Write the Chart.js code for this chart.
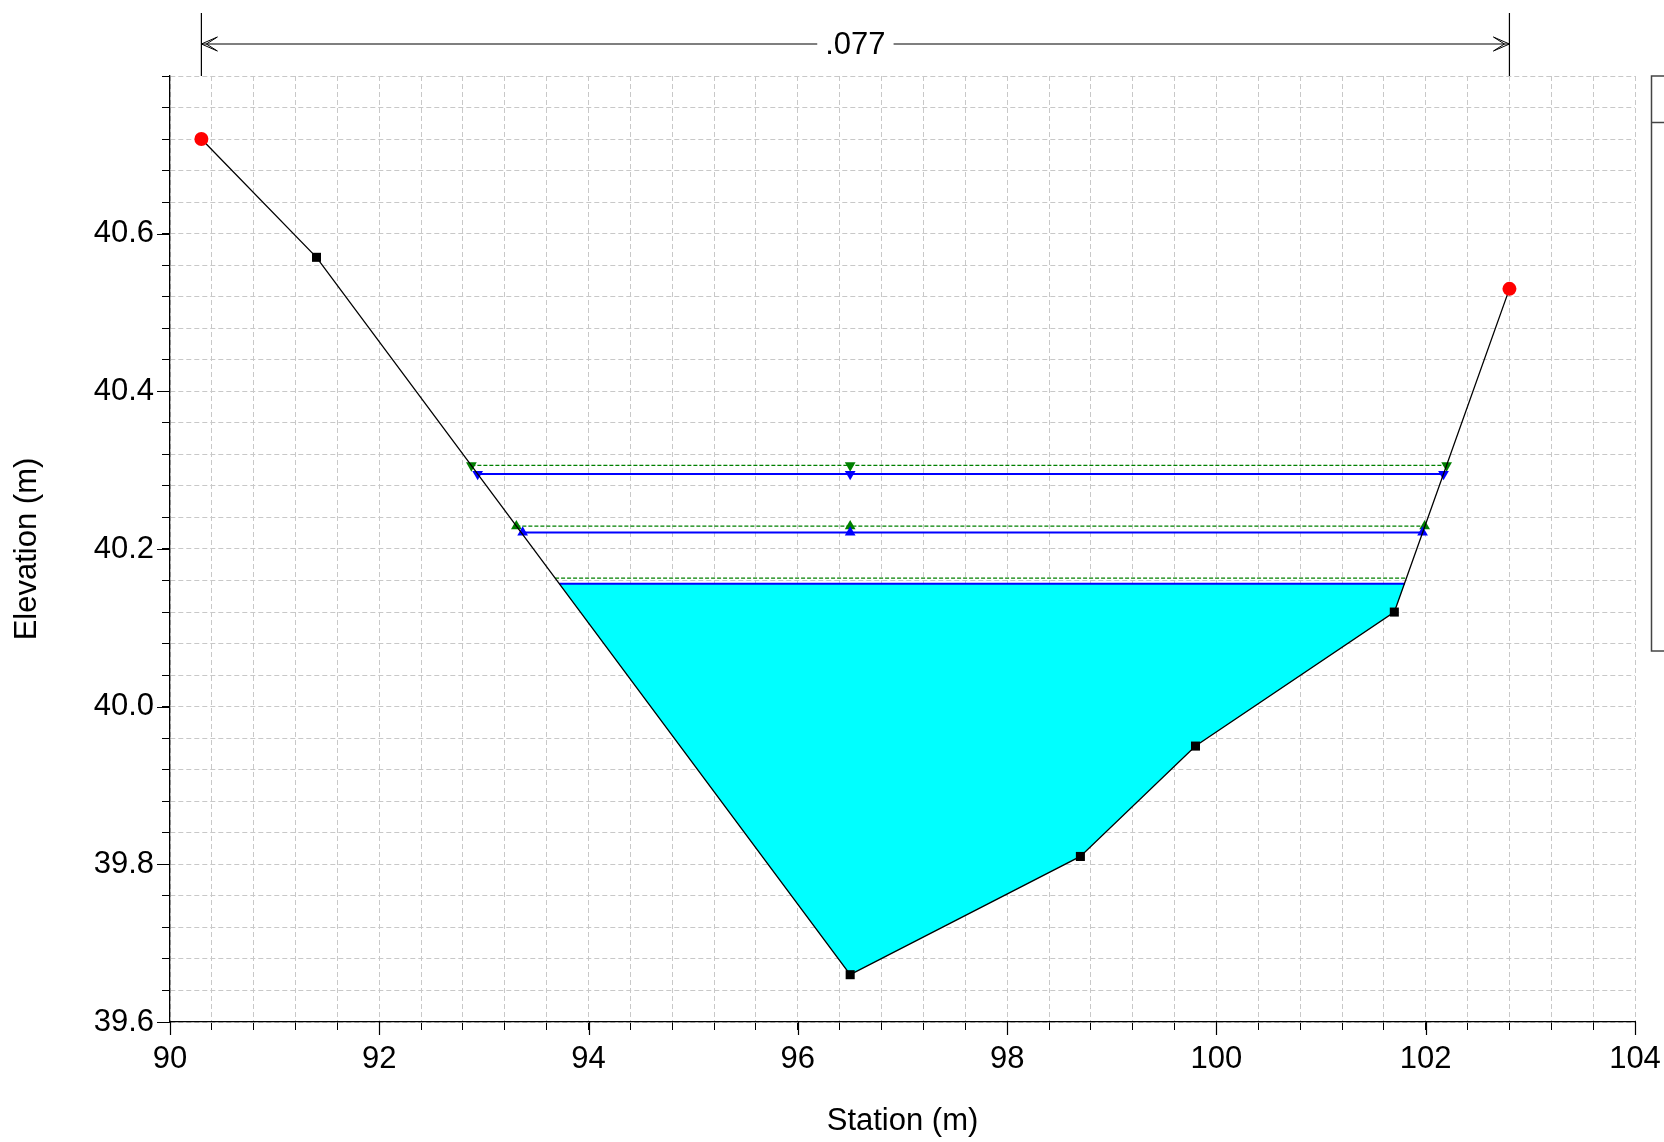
<!DOCTYPE html>
<html>
<head>
<meta charset="utf-8">
<script src="https://cdn.jsdelivr.net/npm/chart.js@4.4.6/dist/chart.umd.min.js"></script>
<style>
  html, body { margin: 0; padding: 0; background: #fff; }
</style>
</head>
<body>
<canvas id="chart" width="1664" height="1142"></canvas>
<script>
/* ground profile (station m, elevation m) */
const groundStation = [90.3, 91.4, 96.5, 98.7, 99.8, 101.7, 102.8];
const groundElev = [40.72, 40.57, 39.66, 39.81, 39.95, 40.12, 40.53];

/* water surfaces, top to bottom: blue solid and green dashed */
const blueElev = [40.295, 40.221, 40.156];
const blueLeft = [92.94, 93.37, 93.72];
const blueRight = [102.17, 101.97, 101.80];
const greenElev = [40.306, 40.229, 40.163];
const greenLeft = [92.88, 93.31, 93.68];
const greenRight = [102.20, 101.99, 101.82];
const markerStation = 96.5;
const markerDir = ['down', 'up', 'none'];

const nValue = '.077';
const xTitle = 'Station (m)';
const yTitle = 'Elevation (m)';

const FONT = '"Liberation Sans", Arial, sans-serif';
Chart.defaults.font.family = FONT;
Chart.defaults.color = '#000';

const isMultiple = (v, m) => Math.abs(v / m - Math.round(v / m)) < 1e-6;
const last = groundStation.length - 1;

/* one water line: left bank, optional middle marker, right bank */
function wsLine(elev, left, right, dir, color, width, dash, order) {
  const pts = [{ x: left, y: elev }];
  if (dir !== 'none') pts.push({ x: markerStation, y: elev });
  pts.push({ x: right, y: elev });
  return {
    data: pts,
    borderColor: color,
    borderWidth: width,
    borderDash: dash,
    pointStyle: 'triangle',
    pointRotation: dir === 'down' ? 180 : 0,
    pointRadius: dir === 'none' ? 0 : 6.2,
    pointBackgroundColor: color,
    pointBorderWidth: 0,
    fill: false,
    order: order
  };
}

const datasets = [];

/* ground line with bank points */
datasets.push({
  data: groundStation.map((x, i) => ({ x: x, y: groundElev[i] })),
  borderColor: '#000',
  borderWidth: 1.3,
  pointStyle: groundStation.map((x, i) => (i === 0 || i === last) ? 'circle' : 'rect'),
  pointRadius: groundStation.map((x, i) => (i === 0 || i === last) ? 7 : 6.4),
  pointBackgroundColor: groundStation.map((x, i) => (i === 0 || i === last) ? '#ff0000' : '#000'),
  pointBorderWidth: 0,
  fill: false,
  order: 0
});

for (let i = 0; i < blueElev.length; i++) {
  datasets.push(wsLine(blueElev[i], blueLeft[i], blueRight[i], markerDir[i], '#0000ff', 2, [], 1));
  datasets.push(wsLine(greenElev[i], greenLeft[i], greenRight[i], markerDir[i], '#008000', 1.2, [4, 2], 2));
}

/* wetted area under the lowest water surface */
const w = blueElev.length - 1;
const wet = groundStation
  .map((x, i) => ({ x: x, y: groundElev[i] }))
  .filter(p => p.x > blueLeft[w] && p.x < blueRight[w]);
datasets.push({
  data: [{ x: blueLeft[w], y: blueElev[w] }, ...wet, { x: blueRight[w], y: blueElev[w] }],
  borderWidth: 0,
  pointRadius: 0,
  backgroundColor: '#00ffff',
  fill: 'shape',
  order: 9
});

/* longer major ticks, dimension line and cut legend frame */
const extras = {
  id: 'extras',
  afterDraw(chart) {
    const ctx = chart.ctx;
    const xs = chart.scales.x, ys = chart.scales.y;
    const area = chart.chartArea;
    ctx.save();
    ctx.strokeStyle = '#000';
    ctx.lineWidth = 1.2;
    ctx.beginPath();
    xs.ticks.forEach(t => {
      if (isMultiple(t.value, 2)) {
        const px = Math.round(xs.getPixelForValue(t.value)) + 0.5;
        ctx.moveTo(px, area.bottom); ctx.lineTo(px, area.bottom + 13);
      }
    });
    ys.ticks.forEach(t => {
      if (isMultiple(t.value, 0.2) && t.value < 40.79) {
        const py = Math.round(ys.getPixelForValue(t.value)) + 0.5;
        ctx.moveTo(area.left - 13, py); ctx.lineTo(area.left, py);
      }
    });
    ctx.stroke();

    // dimension between bank stations
    const xl = xs.getPixelForValue(groundStation[0]);
    const xr = xs.getPixelForValue(groundStation[last]);
    const dy = area.top - 32;
    const cx = (xl + xr) / 2;
    ctx.font = '31px ' + FONT;
    ctx.fillStyle = '#000';
    ctx.textAlign = 'center';
    ctx.textBaseline = 'middle';
    const tw = ctx.measureText(nValue).width;
    ctx.fillText(nValue, cx, dy + 1);
    ctx.lineWidth = 1.2;
    ctx.beginPath();
    ctx.moveTo(xl, 13); ctx.lineTo(xl, area.top);
    ctx.moveTo(xr, 13); ctx.lineTo(xr, area.top);
    ctx.moveTo(xl, dy); ctx.lineTo(cx - tw / 2 - 8, dy);
    ctx.moveTo(cx + tw / 2 + 8, dy); ctx.lineTo(xr, dy);
    ctx.stroke();
    ctx.lineWidth = 1;
    ctx.beginPath();
    ctx.moveTo(xl, dy); ctx.lineTo(xl + 16, dy - 7); ctx.lineTo(xl + 5, dy); ctx.lineTo(xl + 16, dy + 7); ctx.closePath();
    ctx.moveTo(xr, dy); ctx.lineTo(xr - 16, dy - 7); ctx.lineTo(xr - 5, dy); ctx.lineTo(xr - 16, dy + 7); ctx.closePath();
    ctx.stroke();

    // legend frame, clipped by the canvas edge
    ctx.strokeStyle = '#444';
    ctx.lineWidth = 1.5;
    ctx.strokeRect(1651.5, area.top, 40, 575);
    ctx.beginPath();
    ctx.moveTo(1651.5, area.top + 46.5); ctx.lineTo(1664, area.top + 46.5);
    ctx.stroke();
    ctx.restore();
  }
};

new Chart(document.getElementById('chart'), {
  type: 'line',
  data: { datasets: datasets },
  options: {
    responsive: false,
    animation: false,
    events: [],
    layout: { padding: { top: 76, right: 29, left: 0, bottom: 0 } },
    plugins: { legend: { display: false }, tooltip: { enabled: false } },
    scales: {
      x: {
        type: 'linear',
        min: 90,
        max: 104,
        afterFit: s => { s.height = 120; s.paddingLeft = 0; s.paddingRight = 0; },
        ticks: {
          stepSize: 0.4,
          autoSkip: false,
          maxRotation: 0,
          padding: 11,
          font: { size: 31 },
          color: '#000',
          callback: v => isMultiple(v, 2) ? String(Math.round(v)) : ''
        },
        grid: { color: '#c8c8c8', lineWidth: 1, tickLength: 8, tickColor: '#000', tickBorderDash: [] },
        border: { color: '#000', width: 1.3, dash: [5, 3] },
        title: { display: true, text: xTitle, font: { size: 31 }, color: '#000', padding: { top: 0, bottom: 2 } }
      },
      y: {
        type: 'linear',
        min: 39.6,
        max: 40.8,
        afterFit: s => { s.width = 170; s.paddingTop = 0; s.paddingBottom = 0; },
        ticks: {
          stepSize: 0.04,
          autoSkip: false,
          padding: 8,
          font: { size: 31 },
          color: '#000',
          callback: v => (isMultiple(v, 0.2) && v < 40.79) ? v.toFixed(1) : ''
        },
        grid: { color: '#c8c8c8', lineWidth: 1, tickLength: 8, tickColor: '#000', tickBorderDash: [] },
        border: { color: '#000', width: 1.3, dash: [5, 3] },
        title: { display: true, text: yTitle, font: { size: 31 }, color: '#000', padding: { top: 9, bottom: 0 } }
      }
    }
  },
  plugins: [extras]
});
</script>
</body>
</html>
